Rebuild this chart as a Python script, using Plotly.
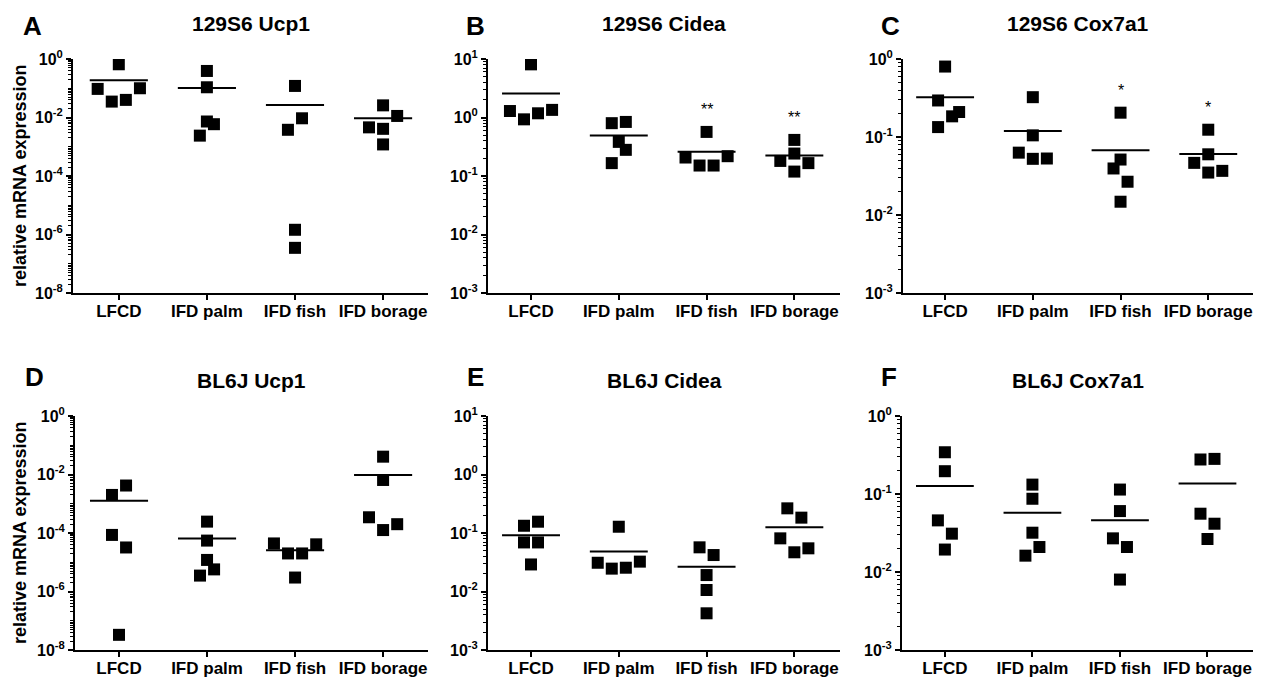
import numpy as np
import plotly.graph_objects as go

# Diet groups on the x axis
groups = ["LFCD", "IFD palm", "IFD fish", "IFD borage"]

# Relative mRNA expression, five animals per diet group (LFCD, palm, fish, borage)
ucp1_129s6 = [
    [0.66, 0.095, 0.035, 0.040, 0.10],
    [0.39, 0.108, 0.0073, 0.0059, 0.0024],
    [0.12, 0.0094, 0.0038, 1.45e-6, 3.5e-7],
    [0.026, 0.0113, 0.0046, 0.0041, 0.0012],
]
cidea_129s6 = [
    [8.1, 1.29, 0.93, 1.18, 1.35],
    [0.80, 0.84, 0.383, 0.28, 0.166],
    [0.567, 0.207, 0.151, 0.151, 0.218],
    [0.414, 0.242, 0.181, 0.166, 0.119],
]
cox7a1_129s6 = [
    [0.80, 0.294, 0.209, 0.184, 0.134],
    [0.324, 0.105, 0.063, 0.0525, 0.053],
    [0.205, 0.0514, 0.0395, 0.0267, 0.0148],
    [0.124, 0.060, 0.0466, 0.035, 0.0368],
]
ucp1_bl6j = [
    [0.0042, 0.0020, 8.6e-5, 3.2e-5, 3.3e-8],
    [2.45e-4, 5.5e-5, 1.2e-5, 5.7e-6, 3.5e-6],
    [4.4e-5, 4.1e-5, 2.0e-5, 2.0e-5, 3.0e-6],
    [0.0407, 0.0065, 3.45e-4, 2.0e-4, 1.26e-4],
]
cidea_bl6j = [
    [0.133, 0.156, 0.069, 0.069, 0.029],
    [0.128, 0.031, 0.0246, 0.0255, 0.0324],
    [0.0569, 0.042, 0.0191, 0.0106, 0.00424],
    [0.264, 0.183, 0.081, 0.0468, 0.0547],
]
cox7a1_bl6j = [
    [0.343, 0.196, 0.0459, 0.031, 0.0194],
    [0.132, 0.0869, 0.0319, 0.0209, 0.0162],
    [0.114, 0.0604, 0.027, 0.0209, 0.0080],
    [0.277, 0.282, 0.0559, 0.0416, 0.0265],
]

# Significance marks vs LFCD
sig_cidea_129s6 = ["", "", "**", "**"]
sig_cox7a1_129s6 = ["", "", "*", "*"]

# Horizontal spread of overlapping points (in steps)
spread_a = [[0, -3, -1, 1, 3], [0, 0, 0, 1, -1], [0, 1, -1, 0, 0], [0, 2, -2, 0, 0]]
spread_b = [[0, -3, -1, 1, 3], [-1, 1, 0, 1, -1], [0, -3, -1, 1, 3], [0, 0, -2, 2, 0]]
spread_c = [[0, -1, 2, 1, -1], [0, 0, -2, 0, 2], [0, 0, -1, 1, 0], [0, 0, -2, 0, 2]]
spread_d = [[1, -1, -1, 1, 0], [0, 0, 0, 1, -1], [-3, 3, -1, 1, 0], [0, 0, -2, 2, 0]]
spread_e = [[-1, 1, -1, 1, 0], [0, -3, -1, 1, 3], [-1, 1, 0, 0, 0], [-1, 1, -2, 0, 2]]
spread_f = [[0, 0, -1, 1, 0], [0, 0, 0, 1, -1], [0, 0, -1, 1, 0], [-1, 1, -1, 1, 0]]
STEP = 0.08
HALF_BAR = 0.33

W, H = 1266, 680
FONT = "Liberation Sans, Arial, sans-serif"

panels = [
    dict(vals=ucp1_129s6, spread=spread_a, title="129S6 Ucp1", letter="A",
         exps=(-8, 0), lab=2, px=(73, 428), py=(59, 293), xr=(-0.52, 3.51), sig=None, ytitle=True),
    dict(vals=cidea_129s6, spread=spread_b, title="129S6 Cidea", letter="B",
         exps=(-3, 1), lab=1, px=(488, 840), py=(59, 293), xr=(-0.49, 3.52), sig=sig_cidea_129s6, ytitle=False),
    dict(vals=cox7a1_129s6, spread=spread_c, title="129S6 Cox7a1", letter="C",
         exps=(-3, 0), lab=1, px=(903, 1253), py=(59, 293), xr=(-0.48, 3.51), sig=sig_cox7a1_129s6, ytitle=False),
    dict(vals=ucp1_bl6j, spread=spread_d, title="BL6J Ucp1", letter="D",
         exps=(-8, 0), lab=2, px=(75, 428), py=(416, 650), xr=(-0.50, 3.51), sig=None, ytitle=True),
    dict(vals=cidea_bl6j, spread=spread_e, title="BL6J Cidea", letter="E",
         exps=(-3, 1), lab=1, px=(488, 840), py=(416, 650), xr=(-0.49, 3.52), sig=None, ytitle=False),
    dict(vals=cox7a1_bl6j, spread=spread_f, title="BL6J Cox7a1", letter="F",
         exps=(-3, 0), lab=1, px=(902, 1253), py=(416, 650), xr=(-0.49, 3.52), sig=None, ytitle=False),
]

fig = go.Figure()
annotations = []

for i, p in enumerate(panels):
    n = i + 1
    xref = "x" if n == 1 else f"x{n}"
    yref = "y" if n == 1 else f"y{n}"
    xkey = "xaxis" if n == 1 else f"xaxis{n}"
    ykey = "yaxis" if n == 1 else f"yaxis{n}"

    for g, vals in enumerate(p["vals"]):
        xs = [g + s * STEP for s in p["spread"][g]]
        fig.add_trace(go.Scatter(
            x=xs, y=vals, mode="markers", xaxis=xref, yaxis=yref,
            marker=dict(symbol="square", size=12, color="black"),
            showlegend=False, hoverinfo="y"))
        m = float(np.mean(vals))
        fig.add_trace(go.Scatter(
            x=[g - HALF_BAR, g + HALF_BAR], y=[m, m], mode="lines",
            xaxis=xref, yaxis=yref, line=dict(color="black", width=2),
            showlegend=False, hoverinfo="skip"))
        if p["sig"] and p["sig"][g]:
            annotations.append(dict(
                x=g, y=float(np.log10(max(vals))), xref=xref, yref=yref,
                text=p["sig"][g], showarrow=False, yshift=22,
                xanchor="center", yanchor="middle",
                font=dict(family=FONT, size=16, color="black")))

    lo, hi = p["exps"]
    major = [10.0 ** e for e in range(lo, hi + 1, p["lab"])]
    major_txt = [f"<b>10<sup>{e}</sup></b>" for e in range(lo, hi + 1, p["lab"])]
    minor = []
    for e in range(lo, hi):
        for k in range(1, 10):
            v = k * 10.0 ** e
            if k == 1 and (e - lo) % p["lab"] == 0:
                continue
            minor.append(v)

    x0, x1 = p["px"]
    ytop, ybot = p["py"]
    fig.layout[xkey] = dict(
        domain=[x0 / W, x1 / W], anchor=yref, range=list(p["xr"]),
        tickmode="array", tickvals=list(range(len(groups))),
        ticktext=[f"<b>{g}</b>" for g in groups],
        showline=True, linecolor="black", linewidth=2, automargin=False,
        ticks="outside", ticklen=5, tickwidth=2, tickcolor="black",
        ticklabelstandoff=-3,
        showgrid=False, zeroline=False,
        tickfont=dict(family=FONT, size=17, color="black"))
    fig.layout[ykey] = dict(
        domain=[1 - ybot / H, 1 - ytop / H], anchor=xref, type="log",
        range=[lo, hi], tickmode="array", tickvals=major, ticktext=major_txt,
        showline=True, linecolor="black", linewidth=2, automargin=False,
        ticks="outside", ticklen=5, tickwidth=2, tickcolor="black",
        showgrid=False, zeroline=False,
        minor=dict(tickmode="array", tickvals=minor, ticks="outside",
                   ticklen=3, tickwidth=1, tickcolor="black", showgrid=False),
        tickfont=dict(family=FONT, size=16, color="black"))

    # panel title and letter
    top_px = 24 if ytop < 100 else 380
    annotations.append(dict(
        x=(x0 + x1) / 2 / W, y=1 - top_px / H, xref="paper", yref="paper",
        xanchor="center", yanchor="middle",
        text=f"<b>{p['title']}</b>", showarrow=False,
        font=dict(family=FONT, size=21, color="black")))
    letter_x = x0 - 41 if n in (1, 4) else x0 - 13
    annotations.append(dict(
        x=letter_x / W, y=1 - (top_px + 2 if n < 4 else top_px - 3) / H,
        xref="paper", yref="paper", xanchor="center", yanchor="middle",
        text=f"<b>{p['letter']}</b>", showarrow=False,
        font=dict(family=FONT, size=26, color="black")))
    if p["ytitle"]:
        annotations.append(dict(
            x=20 / W, y=1 - ((ytop + ybot) / 2) / H, xref="paper", yref="paper",
            xanchor="center", yanchor="middle",
            text="<b>relative mRNA expression</b>", textangle=-90, showarrow=False,
            font=dict(family=FONT, size=18, color="black")))

fig.update_layout(
    template="none",
    width=W, height=H, margin=dict(l=0, r=0, t=0, b=0, pad=0),
    paper_bgcolor="white", plot_bgcolor="white",
    annotations=annotations, showlegend=False,
    font=dict(family=FONT, color="black"))

fig.write_html("out.html")
